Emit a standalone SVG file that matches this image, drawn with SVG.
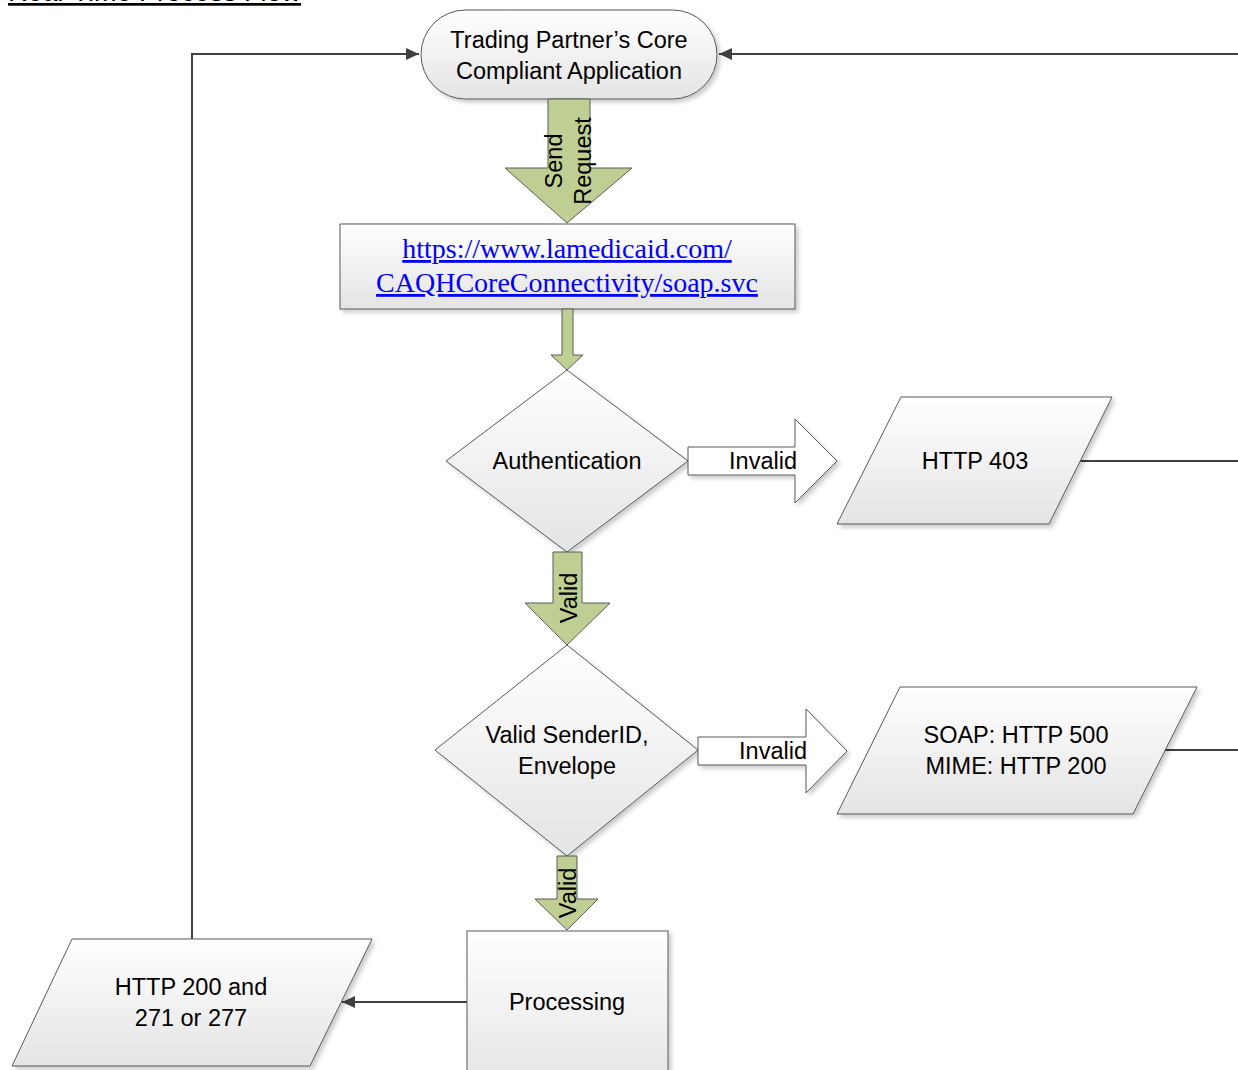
<svg xmlns="http://www.w3.org/2000/svg" width="1238" height="1070" viewBox="0 0 1238 1070">
<style>
.lbl{font-family:"Liberation Sans",Arial,sans-serif;font-size:23.5px;fill:#000;text-anchor:middle}
.shape{stroke:#595959;stroke-width:1;fill:url(#g)}
.green{fill:#bfcf93;stroke:#5a5a5a;stroke-width:1}
.white{fill:#fff;stroke:#595959;stroke-width:1}
.conn{fill:none;stroke:#404040;stroke-width:2}
.url{font-family:"Liberation Serif","Times New Roman",serif;font-size:28px;fill:#0000ff;text-anchor:middle;text-decoration:underline}
</style>
<defs>
<linearGradient id="g" x1="0" y1="0" x2="0" y2="1">
<stop offset="0" stop-color="#ffffff"/>
<stop offset="1" stop-color="#e4e4e4"/>
</linearGradient>
<filter id="sh" x="-10%" y="-10%" width="130%" height="130%">
<feDropShadow dx="3" dy="3" stdDeviation="2" flood-color="#000" flood-opacity="0.2"/>
</filter>
<marker id="ah" markerUnits="userSpaceOnUse" markerWidth="14" markerHeight="12" refX="13" refY="6" orient="auto">
<path d="M0,0 L13,6 L0,12 z" fill="#404040"/>
</marker>
</defs>

<g id="title">
<text x="8" y="1" style="font-family:'Liberation Sans',Arial,sans-serif;font-size:27px;text-decoration:underline" fill="#000">Real-Time Process Flow</text>
</g>

<g id="connectors">
<path class="conn" d="M192,939 L192,54 L419,54" marker-end="url(#ah)"/>
<path class="conn" d="M1240,54 L719,54" marker-end="url(#ah)"/>
<path class="conn" d="M1080,461 L1240,461"/>
<path class="conn" d="M1165,750 L1240,750"/>
<path class="conn" d="M467,1002 L342,1002" marker-end="url(#ah)"/>
</g>

<g id="terminal">
<rect class="shape" x="421" y="10" width="296" height="89" rx="44.5" ry="44.5" filter="url(#sh)"/>
<text class="lbl" x="569" y="48">Trading Partner’s Core</text>
<text class="lbl" x="569" y="79">Compliant Application</text>
</g>

<g id="arrow-send">
<path class="green" d="M548,99 L590,99 L590,168 L632,168 L567,223 L505,168 L548,168 Z"/>
<text class="lbl" transform="translate(562,161) rotate(-90)">Send</text>
<text class="lbl" transform="translate(591,161) rotate(-90)">Request</text>
</g>

<g id="url-box">
<rect class="shape" x="340" y="224" width="455" height="85" filter="url(#sh)"/>
<text class="url" x="567" y="258">https://www.lamedicaid.com/</text>
<text class="url" x="567" y="292">CAQHCoreConnectivity/soap.svc</text>
</g>

<g id="arrow-url">
<path class="green" d="M562,309 L573,309 L573,355 L583,355 L567,370 L551,355 L562,355 Z"/>
</g>

<g id="authentication">
<path class="shape" d="M567,370 L688,461 L567,552 L446,461 Z" filter="url(#sh)"/>
<text class="lbl" x="567" y="469">Authentication</text>
</g>

<g id="arrow-invalid1">
<path class="white" d="M688,447 L795,447 L795,419 L837,461 L795,503 L795,475 L688,475 Z" filter="url(#sh)"/>
<text class="lbl" x="763" y="469">Invalid</text>
</g>

<g id="http403">
<path class="shape" d="M901,397 L1112,397 L1049,524 L837,524 Z" filter="url(#sh)"/>
<text class="lbl" x="975" y="469">HTTP 403</text>
</g>

<g id="arrow-valid1">
<path class="green" d="M553,552 L582,552 L582,603 L610,603 L567,645 L525,603 L553,603 Z"/>
<text class="lbl" transform="translate(577,598) rotate(-90)">Valid</text>
</g>

<g id="senderid">
<path class="shape" d="M567,645 L698,750 L567,856 L435,750 Z" filter="url(#sh)"/>
<text class="lbl" x="567" y="743">Valid SenderID,</text>
<text class="lbl" x="567" y="774">Envelope</text>
</g>

<g id="arrow-invalid2">
<path class="white" d="M698,737 L806,737 L806,709 L847,751 L806,793 L806,765 L698,765 Z" filter="url(#sh)"/>
<text class="lbl" x="773" y="759">Invalid</text>
</g>

<g id="soap">
<path class="shape" d="M900,687 L1197,687 L1133,814 L837,814 Z" filter="url(#sh)"/>
<text class="lbl" x="1016" y="743">SOAP: HTTP 500</text>
<text class="lbl" x="1016" y="774">MIME: HTTP 200</text>
</g>

<g id="arrow-valid2">
<path class="green" d="M557,856 L577,856 L577,899 L598,899 L567,930 L535,899 L557,899 Z"/>
<text class="lbl" transform="translate(576,893) rotate(-90)">Valid</text>
</g>

<g id="processing">
<rect class="shape" x="467" y="931" width="201" height="160" filter="url(#sh)"/>
<text class="lbl" x="567" y="1010">Processing</text>
</g>

<g id="http200">
<path class="shape" d="M72,939 L372,939 L310,1066 L12,1066 Z" filter="url(#sh)"/>
<text class="lbl" x="191" y="995">HTTP 200 and</text>
<text class="lbl" x="191" y="1026">271 or 277</text>
</g>
</svg>
